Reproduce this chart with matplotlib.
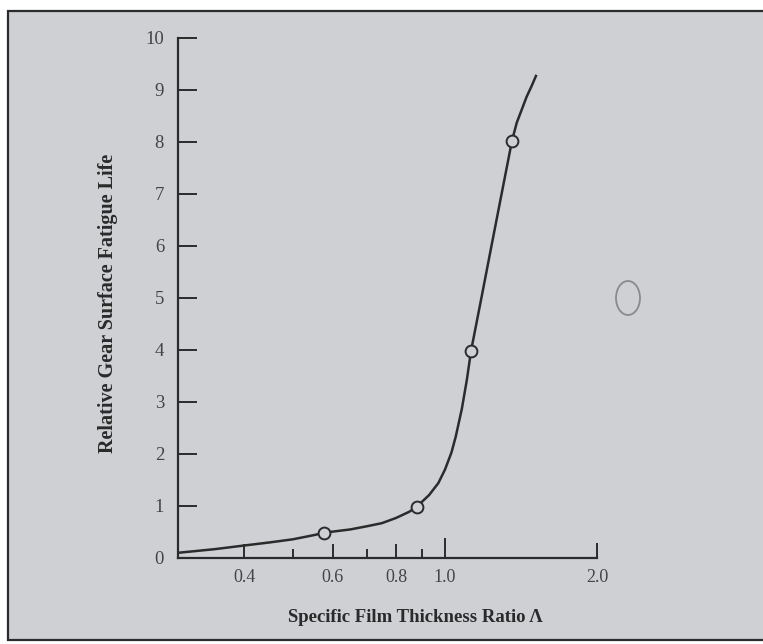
import matplotlib
matplotlib.use("Agg")
import matplotlib.pyplot as plt
from matplotlib.patches import Rectangle, Ellipse

# ==================== data ====================
# curve: specific film thickness ratio vs relative surface fatigue life
curve_x = [0.296, 0.35, 0.40, 0.45, 0.50, 0.55, 0.58, 0.65, 0.70, 0.75,
           0.80, 0.85, 0.88, 0.93, 0.97, 1.00, 1.03, 1.05, 1.08, 1.105,
           1.126, 1.18, 1.236, 1.295, 1.357, 1.387, 1.42, 1.451, 1.485, 1.514]
curve_y = [0.10, 0.17, 0.24, 0.30, 0.36, 0.44, 0.49, 0.55, 0.61, 0.67,
           0.77, 0.89, 0.99, 1.21, 1.44, 1.70, 2.03, 2.33, 2.87, 3.43,
           3.98, 4.99, 6.00, 7.01, 8.02, 8.37, 8.63, 8.87, 9.08, 9.27]

# open circles (test points)
point_x = [0.576, 0.880, 1.126, 1.357]
point_y = [0.48, 0.99, 3.98, 8.02]

x_major = [0.4, 0.6, 0.8, 1.0, 2.0]
x_major_labels = ["0.4", "0.6", "0.8", "1.0", "2.0"]
x_minor = [0.5, 0.7, 0.9]
y_ticks = list(range(0, 11))

BG = "#cfd0d4"
INK = "#2b2b2b"
SERIF = ["Liberation Serif", "DejaVu Serif"]

W, H = 763, 644
fig = plt.figure(figsize=(W / 100, H / 100), dpi=100)
fig.patch.set_facecolor("white")

# scanned page frame (kept behind the axes)
fig.patches.append(Rectangle((8 / W, 1 - 640 / H), (W + 10 - 8) / W, (640 - 11) / H,
                             transform=fig.transFigure, facecolor=BG,
                             edgecolor=INK, linewidth=1.6, zorder=-10))
# smudge on the scan
fig.patches.append(Ellipse((628 / W, 1 - 298 / H), 24 / W, 34 / H,
                           transform=fig.transFigure, facecolor="none",
                           edgecolor="#8a8a8e", linewidth=1.3, zorder=-9))

ax = fig.add_axes([178 / W, 1 - 558 / H, (597 - 178) / W, (558 - 38) / H])
ax.set_facecolor("none")
ax.set_zorder(1)

ax.plot(curve_x, curve_y, color=INK, linewidth=1.8, zorder=3)
ax.plot(point_x, point_y, linestyle="none", marker="o", markersize=8.5,
        markerfacecolor=BG, markeredgecolor=INK, markeredgewidth=1.4, zorder=4)

ax.set_xscale("log")
ax.set_xlim(0.296, 2.0)
ax.set_ylim(0, 10)

ax.set_xticks(x_major)
ax.set_xticklabels(x_major_labels)
ax.set_xticks(x_minor, minor=True)
ax.set_xticklabels([], minor=True)
ax.set_yticks(y_ticks)

for s in ["top", "right"]:
    ax.spines[s].set_visible(False)
for s in ["left", "bottom"]:
    ax.spines[s].set_linewidth(1.6)
    ax.spines[s].set_color(INK)

ax.tick_params(axis="y", direction="in", length=14, width=1.4, color=INK,
               pad=10, labelsize=13.5, labelcolor="#444444")
ax.tick_params(axis="x", which="major", direction="in", length=10, width=1.4,
               color=INK, pad=8, labelsize=13, labelcolor="#444444")
ax.tick_params(axis="x", which="minor", direction="in", length=6.5, width=1.4,
               color=INK)
# the 1.0 tick is drawn longer on the original
major_len = {0.4: 10, 0.6: 10, 0.8: 10, 1.0: 14.5, 2.0: 11}
for tick, xv in zip(ax.xaxis.get_major_ticks(), x_major):
    tick.tick1line.set_markersize(major_len[xv])

for lab in ax.get_xticklabels() + ax.get_yticklabels():
    lab.set_family(SERIF)

fig.text(415 / W, 1 - 618 / H, "Specific Film Thickness Ratio \u039b",
         ha="center", va="center", fontsize=13.5, fontweight="bold",
         family=SERIF, color="#2a2a2a")
fig.text(108 / W, 1 - 303 / H, "Relative Gear Surface Fatigue Life",
         ha="center", va="center", rotation=90, fontsize=14.5,
         fontweight="bold", family=SERIF, color="#2a2a2a")

fig.savefig("out.png", dpi=100, facecolor=fig.get_facecolor())
